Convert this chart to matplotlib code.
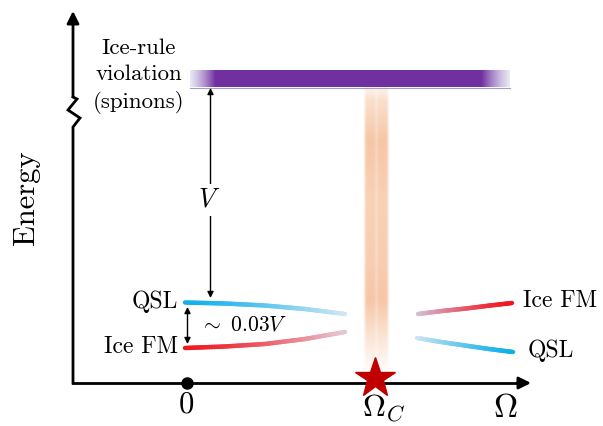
import numpy as np
import matplotlib
matplotlib.use("Agg")
import matplotlib.pyplot as plt
from matplotlib.collections import LineCollection
from matplotlib.colors import to_rgb

plt.rcParams['mathtext.fontset'] = 'cm'
plt.rcParams['font.family'] = ['cmr10', 'DejaVu Serif']
plt.rcParams['axes.unicode_minus'] = False

# ---- data (diagram coordinates: x ~ Omega position, y ~ screen row, increasing downward) ----
axis_x0, axis_y0 = 73, 383          # origin of the energy/Omega axes
xaxis_end = 531
yaxis_top = 11
break_pts_x = [73, 73, 80, 68, 77, 73]
break_pts_y = [383, 127, 118, 110, 99, 97]

omega0_x = 187
omegaC_x = 375

band_x = [190, 510]
band_y = [70.5, 87]

crit_x = [363, 390]
crit_y = [87, 375]

# level curves (x, y)
qsl_left_x = [185, 225, 265, 305, 345]
qsl_left_y = [302.5, 303.5, 305.5, 309, 314]
fm_left_x = [185, 225, 265, 305, 345]
fm_left_y = [348, 346.5, 344, 339, 332]
fm_right_x = [418, 442, 466, 490, 512]
fm_right_y = [314, 311, 308.5, 305.5, 303]
qsl_right_x = [417, 441, 465, 489, 513]
qsl_right_y = [338, 342, 345.5, 349, 352]

V_arrow_x = 210.5
V_arrow_y = [88, 298]
gap_arrow_x = 187.5
gap_arrow_y = [307, 344]

fig = plt.figure(figsize=(6.03, 4.26), dpi=100)
ax = fig.add_axes([0, 0, 1, 1])
ax.set_xlim(0, 603)
ax.set_ylim(426, 0)
ax.axis('off')

# ---- purple band with faded ends ----
N = 400
xs = np.linspace(band_x[0], band_x[1], N)
purple = np.array(to_rgb('#7030a0'))
light = np.array([0.85, 0.85, 0.94])
w = np.clip(np.minimum((xs - band_x[0]) / 25.0, (band_x[1] - xs) / 28.0), 0, 1)
img = np.zeros((1, N, 4))
img[0, :, :3] = light[None, :] * (1 - w[:, None]) + purple[None, :] * w[:, None]
img[0, :, 3] = 0.6 + 0.4 * w
ax.imshow(img, extent=[band_x[0], band_x[1], band_y[1], band_y[0]], aspect='auto',
          interpolation='bilinear', zorder=2)
ax.plot(band_x, [band_y[1] + 0.5] * 2, color='#a0a0b8', lw=0.8, zorder=2)

# ---- orange critical band ----
M, K = 300, 60
ys = np.linspace(crit_y[0], crit_y[1], M)
xx = np.linspace(-1, 1, K)
hprof = np.clip((1 - np.abs(xx)) / 0.25, 0, 1) * (1 - 0.25 * np.exp(-(xx / 0.12) ** 2))
vy_pts = [87, 100, 140, 200, 260, 300, 340, 375]
va_pts = [0.15, 0.45, 0.8, 0.65, 0.7, 0.8, 0.35, 0.0]
vprof = np.interp(ys, vy_pts, va_pts)
cimg = np.zeros((M, K, 4))
cimg[..., :3] = np.array(to_rgb('#f4b890'))
cimg[..., 3] = vprof[:, None] * hprof[None, :]
ax.imshow(cimg, extent=[crit_x[0], crit_x[1], crit_y[1], crit_y[0]], aspect='auto',
          interpolation='bilinear', zorder=1)

# ---- level curves with fading ----
def grad_line(xp, yp, c_strong, c_weak, strong_at_start):
    xi = np.linspace(xp[0], xp[-1], 60)
    yi = np.interp(xi, xp, yp)
    pts = np.column_stack([xi, yi]).reshape(-1, 1, 2)
    segs = np.concatenate([pts[:-1], pts[1:]], axis=1)
    t = np.linspace(0, 1, len(segs))
    if not strong_at_start:
        t = 1 - t
    t = t ** 1.3
    cs = np.array(to_rgb(c_strong)); cw = np.array(to_rgb(c_weak))
    cols = cs[None, :] * (1 - t[:, None]) + cw[None, :] * t[:, None]
    lc = LineCollection(segs, colors=cols, linewidths=3.2, capstyle='round',
                        antialiaseds=True, zorder=3)
    ax.add_collection(lc)

grad_line(qsl_left_x, qsl_left_y, '#12b0ea', '#cfe6f3', True)
grad_line(fm_left_x, fm_left_y, '#f01820', '#e6c6d2', True)
grad_line(fm_right_x, fm_right_y, '#f01820', '#d2c0d8', False)
grad_line(qsl_right_x, qsl_right_y, '#12b0ea', '#cfe6f3', False)

# ---- axes ----
ax.plot([axis_x0, xaxis_end - 12], [axis_y0, axis_y0], color='k', lw=2.0, zorder=4,
        solid_capstyle='projecting')
ax.annotate('', xy=(xaxis_end, axis_y0), xytext=(xaxis_end - 14, axis_y0),
            arrowprops=dict(arrowstyle='-|>', color='k', lw=2.0, mutation_scale=18,
                            shrinkA=0, shrinkB=0), zorder=4)
ax.plot(break_pts_x, break_pts_y, color='k', lw=2.0, zorder=4, solid_joinstyle='miter')
ax.annotate('', xy=(axis_x0, yaxis_top), xytext=(axis_x0, 97),
            arrowprops=dict(arrowstyle='-|>', color='k', lw=2.0, mutation_scale=18,
                            shrinkA=0, shrinkB=0), zorder=4)

ax.plot([omega0_x], [axis_y0], 'o', color='k', ms=8, zorder=5)
ax.plot([omegaC_x], [axis_y0 - 5], '*', color='#c00000', ms=30, mec='#c00000', zorder=5)

# ---- arrows ----
ax.annotate('', xy=(V_arrow_x, V_arrow_y[0]), xytext=(V_arrow_x, V_arrow_y[1]),
            arrowprops=dict(arrowstyle='<|-|>', color='k', lw=1.0, mutation_scale=9,
                            shrinkA=0, shrinkB=0), zorder=4)
ax.text(V_arrow_x - 1, 200, r'$V$', fontsize=19, ha='center', va='center', zorder=5,
        bbox=dict(facecolor='white', edgecolor='none', pad=3))
ax.annotate('', xy=(gap_arrow_x, gap_arrow_y[0]), xytext=(gap_arrow_x, gap_arrow_y[1]),
            arrowprops=dict(arrowstyle='<|-|>', color='k', lw=1.0, mutation_scale=9,
                            shrinkA=0, shrinkB=0), zorder=4)
ax.text(200, 325, r'$\sim\ 0.03V$', fontsize=15.5, ha='left', va='center')

# ---- labels ----
ax.text(139, 76, 'Ice-rule\nviolation\n(spinons)', fontsize=16.5, ha='center', va='center',
        linespacing=1.42)
ax.text(178, 302, 'QSL', fontsize=17, ha='right', va='center')
ax.text(178, 347, 'Ice FM', fontsize=17, ha='right', va='center')
ax.text(523, 301, 'Ice FM', fontsize=17, ha='left', va='center')
ax.text(528, 351, 'QSL', fontsize=17, ha='left', va='center')
ax.text(186, 405, r'$0$', fontsize=22, ha='center', va='center')
ax.text(384, 408, r'$\Omega_C$', fontsize=23, ha='center', va='center')
ax.text(505, 408, r'$\Omega$', fontsize=24, ha='center', va='center')
ax.text(26, 198, 'Energy', fontsize=22, ha='center', va='center', rotation=90)

fig.savefig('out.png', dpi=100)
